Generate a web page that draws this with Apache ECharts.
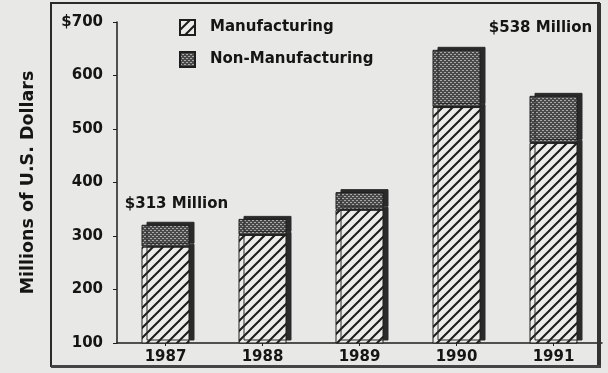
<!DOCTYPE html>
<html>
<head>
<meta charset="utf-8">
<script src="https://cdn.jsdelivr.net/npm/echarts@6/dist/echarts.min.js"></script>
<style>
html,body{margin:0;padding:0;background:#e8e8e6;}
#c{width:608px;height:373px;}
</style>
</head>
<body>
<div id="c"></div>
<script>
// ---- data ----
var years = ['1987', '1988', '1989', '1990', '1991'];
var manufacturing = [280, 302, 349, 541, 474];
var nonManufacturing = [41, 30, 33, 107, 88];
var seriesNames = ['Manufacturing', 'Non-Manufacturing'];
var yTicks = [100, 200, 300, 400, 500, 600, 700];
var annotations = ['$313 Million', '', '', '', '$538 Million'];
var axisTitle = 'Millions of U.S. Dollars';

// ---- patterns ----
function hatchPattern() {
  var s = 10, c = document.createElement('canvas');
  c.width = s; c.height = s;
  var g = c.getContext('2d');
  g.fillStyle = '#ececea'; g.fillRect(0, 0, s, s);
  g.strokeStyle = '#1c1c1c'; g.lineWidth = 2;
  g.beginPath();
  g.moveTo(-2, s + 2); g.lineTo(s + 2, -2);
  g.moveTo(-2 - s, s + 2); g.lineTo(2, -2);
  g.moveTo(s - 2, s + 2); g.lineTo(2 * s + 2, -2);
  g.stroke();
  return c;
}
function stipplePattern() {
  var s = 4, c = document.createElement('canvas');
  c.width = s; c.height = s;
  var g = c.getContext('2d');
  g.fillStyle = '#4a4a4a'; g.fillRect(0, 0, s, s);
  g.fillStyle = '#a8a8a8';
  g.fillRect(0, 0, 2, 1); g.fillRect(2, 2, 2, 1);
  return c;
}

var font = 'DejaVu Sans';
var chart = echarts.init(document.getElementById('c'), null, {renderer: 'canvas'});

var topData = nonManufacturing.map(function (v, i) {
  var d = {value: v};
  if (annotations[i]) {
    d.label = {
      show: true, position: 'top', formatter: annotations[i],
      fontFamily: font, fontSize: 15, fontWeight: 'bold', color: '#151515',
      offset: i === 0 ? [11, -8] : [-13, -55]
    };
  }
  return d;
});

var shadowStyle = {
  borderColor: '#1e1e1e', borderWidth: 1,
  shadowColor: '#2a2a2a', shadowBlur: 0, shadowOffsetX: 5, shadowOffsetY: -3
};

chart.setOption({
  backgroundColor: '#e8e8e6',
  animation: false,
  grid: {left: 117, right: 6, top: 22, bottom: 30},
  legend: {
    orient: 'vertical', left: 174, top: 14, icon: 'rect',
    itemWidth: 15, itemHeight: 15, itemGap: 15,
    textStyle: {fontFamily: font, fontSize: 15, fontWeight: 'bold', color: '#151515', lineHeight: 16, padding: [0, 0, 0, 10]},
    data: seriesNames
  },
  xAxis: {
    type: 'category', data: years,
    axisLine: {lineStyle: {color: '#1e1e1e', width: 1.5}},
    axisTick: {show: true, alignWithLabel: true, length: 3, lineStyle: {color: '#1e1e1e'}},
    axisLabel: {fontFamily: font, fontSize: 15, fontWeight: 'bold', color: '#151515', margin: 7}
  },
  yAxis: {
    type: 'value', min: 100, max: 700, interval: 100,
    name: axisTitle, nameLocation: 'middle', nameRotate: 90, nameGap: 80,
    nameTextStyle: {fontFamily: font, fontSize: 17.5, fontWeight: 'bold', color: '#151515'},
    axisLine: {show: true, lineStyle: {color: '#1e1e1e', width: 1.5}},
    axisTick: {show: true, length: 4, lineStyle: {color: '#1e1e1e'}},
    splitLine: {show: false},
    axisLabel: {
      fontFamily: font, fontSize: 15, fontWeight: 'bold', color: '#151515', margin: 14,
      formatter: function (v) { return v === yTicks[yTicks.length - 1] ? '$' + v : String(v); }
    }
  },
  series: [
    {
      name: seriesNames[0], type: 'bar', stack: 'total', barWidth: 48,
      data: manufacturing,
      itemStyle: Object.assign({color: {image: hatchPattern(), repeat: 'repeat'}}, shadowStyle)
    },
    {
      name: seriesNames[1], type: 'bar', stack: 'total', barWidth: 48,
      data: topData,
      itemStyle: Object.assign({color: {image: stipplePattern(), repeat: 'repeat'}}, shadowStyle)
    }
  ],
  graphic: [
    {type: 'rect', z: 100, silent: true,
     shape: {x: 51, y: 3, width: 548, height: 363},
     style: {fill: 'none', stroke: '#2a2a2a', lineWidth: 2}},
    {type: 'rect', z: 100, silent: true,
     shape: {x: 597, y: 3, width: 4, height: 364},
     style: {fill: '#333'}},
    {type: 'rect', z: 100, silent: true,
     shape: {x: 51, y: 365, width: 550, height: 3},
     style: {fill: '#444'}}
  ]
});
</script>
</body>
</html>
